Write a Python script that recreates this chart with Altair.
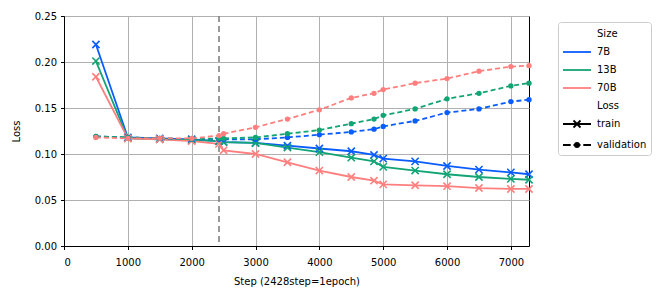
import altair as alt
import pandas as pd

# ---- data ----
steps = [500, 1000, 1500, 2000, 2428, 2500, 3000, 3500, 4000, 4500, 4856, 5000,
         5500, 6000, 6500, 7000, 7284]
sizes = ["7B", "13B", "70B"]
train_7b = [0.219, 0.118, 0.117, 0.116, 0.114, 0.113, 0.112, 0.109, 0.106, 0.103,
            0.099, 0.095, 0.092, 0.087, 0.083, 0.080, 0.078]
train_13b = [0.201, 0.117, 0.116, 0.115, 0.114, 0.113, 0.112, 0.107, 0.102, 0.096,
             0.092, 0.086, 0.082, 0.078, 0.075, 0.073, 0.072]
train_70b = [0.184, 0.117, 0.116, 0.114, 0.111, 0.104, 0.100, 0.091, 0.082, 0.075,
             0.071, 0.067, 0.066, 0.065, 0.063, 0.062, 0.062]
val_7b = [0.119, 0.118, 0.117, 0.116, 0.116, 0.116, 0.116, 0.118, 0.121, 0.124,
          0.127, 0.130, 0.136, 0.145, 0.149, 0.157, 0.159]
val_13b = [0.119, 0.118, 0.117, 0.116, 0.117, 0.117, 0.118, 0.122, 0.126, 0.133,
           0.138, 0.142, 0.149, 0.160, 0.166, 0.174, 0.177]
val_70b = [0.118, 0.117, 0.117, 0.117, 0.120, 0.122, 0.129, 0.138, 0.148, 0.161,
           0.166, 0.170, 0.177, 0.182, 0.190, 0.195, 0.196]
epoch_step = [2428]
x_ticks = [0, 1000, 2000, 3000, 4000, 5000, 6000, 7000]
y_ticks = [0.0, 0.05, 0.10, 0.15, 0.20, 0.25]
colors = ["#0A5CFF", "#12A475", "#FF7F7F"]
legend_keys = ["Size", "7B", "13B", "70B", "Loss", "train", "validation"]

train = {"7B": train_7b, "13B": train_13b, "70B": train_70b}
val = {"7B": val_7b, "13B": val_13b, "70B": val_70b}

rows = []
for s in sizes:
    for st, v in zip(steps, train[s]):
        rows.append({"Step": st, "value": v, "Size": s, "Loss": "train"})
    for st, v in zip(steps, val[s]):
        rows.append({"Step": st, "value": v, "Size": s, "Loss": "validation"})
df = pd.DataFrame(rows)
train_df = df[df["Loss"] == "train"]
val_df = df[df["Loss"] == "validation"]

x = alt.X("Step:Q", scale=alt.Scale(domain=[0, 7284], nice=False, zero=False),
          axis=alt.Axis(values=x_ticks, title="Step (2428step=1epoch)", format="d"))
y = alt.Y("value:Q", scale=alt.Scale(domain=[0, 0.25], nice=False),
          axis=alt.Axis(values=y_ticks, title="Loss", format=".2f"))
color = alt.Color("Size:N", scale=alt.Scale(domain=sizes, range=colors), legend=None)

vline = alt.Chart(pd.DataFrame({"Step": epoch_step})).mark_rule(
    color="#808080", strokeDash=[6, 4], strokeWidth=1.6
).encode(x="Step:Q")

train_lines = alt.Chart(train_df).mark_line(strokeWidth=1.8).encode(x=x, y=y, color=color)
train_pts = alt.Chart(train_df).mark_point(
    shape="M-1,-1L1,1M-1,1L1,-1", filled=False, size=52, strokeWidth=1.6, opacity=1
).encode(x=x, y=y, color=color)
val_lines = alt.Chart(val_df).mark_line(strokeWidth=1.8, strokeDash=[5, 3]).encode(
    x=x, y=y, color=color)
val_pts = alt.Chart(val_df).mark_circle(size=28, opacity=1).encode(x=x, y=y, color=color)

# legend-only layer (invisible marks)
blank = "M0,0"
line_sym = "M-1,0H3"
train_sym = "M-1,0H3M0.5,-0.5L1.5,0.5M0.5,0.5L1.5,-0.5"
val_sym = "M-1,0H0.1M0.5,0H1.5M1.9,0H3M1.3,0A0.3,0.3,0,1,1,0.7,0A0.3,0.3,0,1,1,1.3,0Z"
leg_df = pd.DataFrame({"key": legend_keys})
legend_layer = alt.Chart(leg_df).mark_point(opacity=0, filled=True).encode(
    shape=alt.Shape("key:N", scale=alt.Scale(
        domain=legend_keys,
        range=[blank, line_sym, line_sym, line_sym, blank, train_sym, val_sym]),
        legend=alt.Legend(title=None, orient="none", legendX=494, legendY=6,
                          symbolSize=196, labelOffset=19, rowPadding=5,
                          padding=4, strokeColor="#cccccc", cornerRadius=3,
                          fillColor="white", symbolStrokeWidth=1.8,
                          symbolOpacity=1,
                          labelFontSize=10, labelFont="DejaVu Sans",
                          labelColor="black")),
    stroke=alt.Stroke("key:N", scale=alt.Scale(
        domain=legend_keys,
        range=["transparent", colors[0], colors[1], colors[2], "transparent",
               "black", "black"]), legend=None),
    fill=alt.Fill("key:N", scale=alt.Scale(
        domain=legend_keys,
        range=["transparent"] * 6 + ["black"]), legend=None),
)

chart = alt.layer(vline, train_lines, val_lines, train_pts, val_pts, legend_layer).properties(
    width=465, height=230,
    padding={"left": 3, "top": 3, "right": 5, "bottom": 5},
).configure_view(stroke="black", strokeWidth=1).configure_axis(
    labelFont="DejaVu Sans", titleFont="DejaVu Sans", labelFontSize=10,
    titleFontSize=10, titleFontWeight="normal", labelColor="black", titleColor="black",
    domainColor="black", tickColor="black", tickSize=3.5, labelPadding=4,
    gridColor="#b0b0b0", gridWidth=1,
).configure_axisY(titlePadding=13).configure_axisX(titlePadding=9, labelPadding=8)

chart.save("out.html", embed_options={"renderer": "svg", "actions": False})
